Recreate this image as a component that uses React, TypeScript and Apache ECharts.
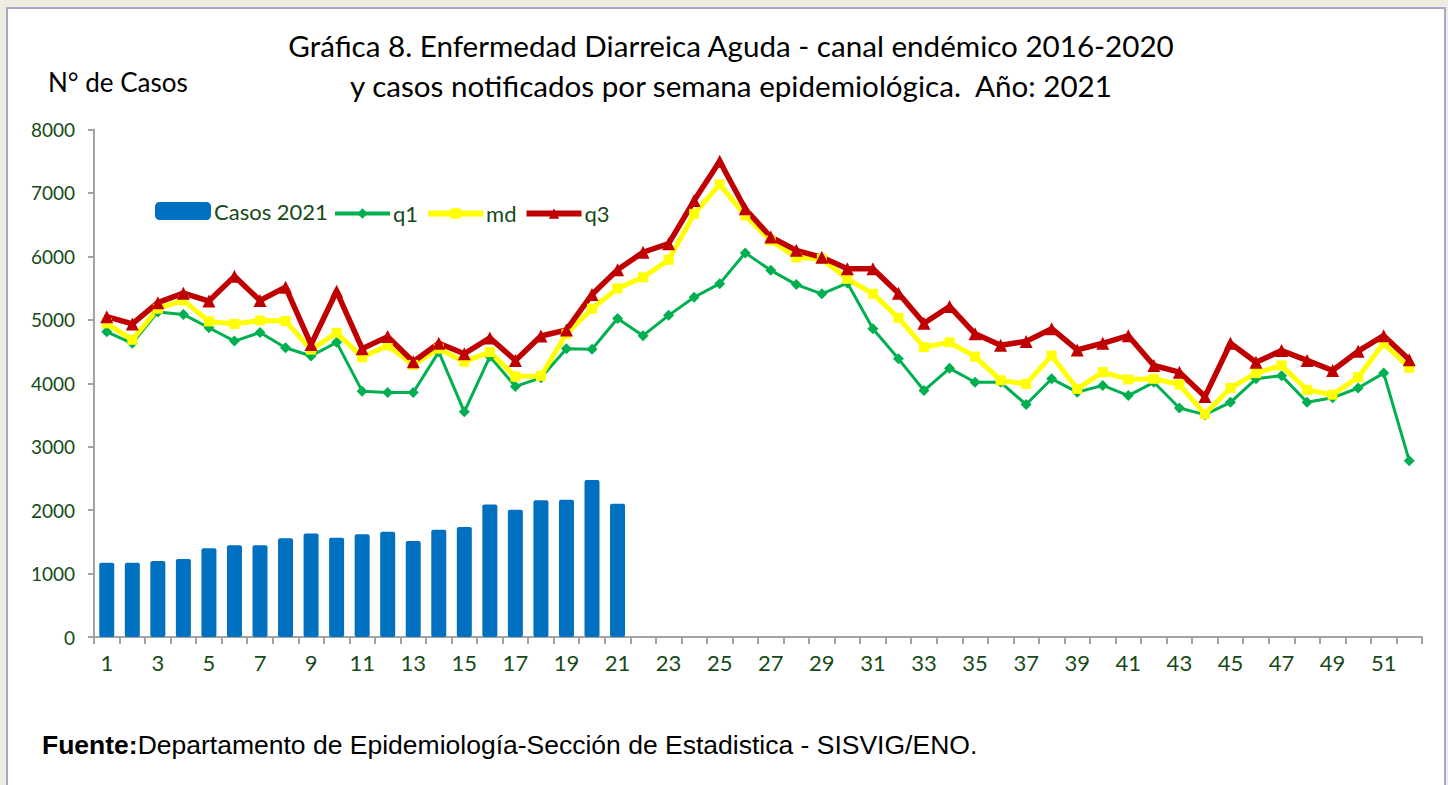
import React, { useEffect, useRef } from "react";
import * as echarts from "echarts";

const weeks = [
  "1", "2", "3", "4", "5", "6", "7", "8", "9", "10",
  "11", "12", "13", "14", "15", "16", "17", "18", "19", "20",
  "21", "22", "23", "24", "25", "26", "27", "28", "29", "30",
  "31", "32", "33", "34", "35", "36", "37", "38", "39", "40",
  "41", "42", "43", "44", "45", "46", "47", "48", "49", "50",
  "51", "52",
];

const casos2021 = [
  1170, 1170, 1200, 1230, 1400, 1445, 1445, 1555, 1630, 1565,
  1620, 1660, 1515, 1690, 1735, 2090, 2005, 2155, 2165, 2475,
  2100,
];

const q1 = [
  4810, 4630, 5125, 5085, 4875, 4665, 4800, 4560, 4430, 4645,
  3875, 3855, 3855, 4495, 3550, 4420, 3950, 4085, 4545, 4535,
  5020, 4750, 5070, 5355, 5570, 6055, 5780, 5555, 5410, 5580,
  4860, 4385, 3885, 4235, 4015, 4015, 3665, 4070, 3860, 3965,
  3805, 4015, 3610, 3505, 3700, 4070, 4120, 3700, 3770, 3925,
  4160, 2780,
];

const md = [
  4945, 4685, 5175, 5305, 4975, 4935, 4990, 4980, 4530, 4795,
  4410, 4595, 4290, 4545, 4340, 4490, 4105, 4115, 4780, 5175,
  5495, 5670, 5945, 6670, 7135, 6645, 6250, 5985, 5960, 5645,
  5410, 5030, 4570, 4645, 4420, 4045, 3990, 4435, 3910, 4175,
  4060, 4070, 3980, 3515, 3925, 4160, 4280, 3895, 3820, 4095,
  4630, 4245,
];

const q3 = [
  5050, 4935, 5270, 5420, 5295, 5685, 5305, 5515, 4610, 5450,
  4545, 4735, 4340, 4630, 4465, 4715, 4360, 4745, 4840, 5400,
  5790, 6065, 6200, 6880, 7500, 6750, 6305, 6095, 5985, 5805,
  5805, 5420, 4945, 5210, 4780, 4600, 4660, 4860, 4525, 4630,
  4750, 4280, 4175, 3790, 4630, 4330, 4515, 4360, 4200, 4505,
  4750, 4370,
];

const titleLines = [
  "Gráfica 8. Enfermedad Diarreica Aguda - canal endémico 2016-2020",
  "y casos notificados por semana epidemiológica.  Año: 2021",
];
const yTitle = "N° de Casos";
const sourceBold = "Fuente:";
const sourceText = "Departamento de Epidemiología-Sección de Estadistica - SISVIG/ENO.";

const FONT = "Lato, 'Open Sans', sans-serif";
const ARIAL = "'Liberation Sans', Arial, sans-serif";
const LABEL_COLOR = "#154a17";
const AXIS_COLOR = "#a3a3a3";

export default function App() {
  const ref = useRef<HTMLDivElement>(null);

  useEffect(() => {
    document.body.style.margin = "0";
    if (!ref.current) return;
    const chart = echarts.init(ref.current, undefined, { renderer: "svg" });
    chart.setOption({
      animation: false,
      backgroundColor: "#eeebe1",
      textStyle: { fontFamily: FONT },
      graphic: [
        {
          type: "rect",
          z: -10,
          shape: { x: 7, y: 8, width: 1438, height: 800 },
          style: { fill: "#ffffff", stroke: "#aaa8c8", lineWidth: 2 },
        },
        {
          type: "text",
          x: 731,
          y: 45,
          style: {
            text: titleLines[0],
            fontFamily: FONT,
            fontSize: 29.6,
            fill: "#000000",
            textAlign: "center",
            textVerticalAlign: "middle",
          },
        },
        {
          type: "text",
          x: 731,
          y: 85,
          style: {
            text: titleLines[1],
            fontFamily: FONT,
            fontSize: 29.6,
            fill: "#000000",
            textAlign: "center",
            textVerticalAlign: "middle",
          },
        },
        {
          type: "text",
          x: 48,
          y: 82,
          style: {
            text: yTitle,
            fontFamily: FONT,
            fontSize: 26,
            fill: "#000000",
            textAlign: "left",
            textVerticalAlign: "middle",
          },
        },
        {
          type: "text",
          x: 42,
          y: 745,
          style: {
            text: "{b|" + sourceBold + "}{n|" + sourceText + "}",
            textVerticalAlign: "middle",
            rich: {
              b: { fontFamily: ARIAL, fontWeight: "bold", fontSize: 26.5, fill: "#000000" },
              n: { fontFamily: ARIAL, fontSize: 26.5, fill: "#000000" },
            },
          },
        },
      ],
      legend: [
        {
          data: ["Casos 2021"],
          left: 155,
          top: 200,
          padding: 0,
          itemWidth: 56,
          itemHeight: 18,
          textStyle: { color: LABEL_COLOR, fontSize: 22, fontFamily: FONT, padding: [0, 0, 0, -2] },
        },
        {
          data: [
            { name: "q1", lineStyle: { width: 4 } },
            { name: "md", lineStyle: { width: 6 } },
            { name: "q3", lineStyle: { width: 6 } },
          ],
          left: 333,
          top: 202.5,
          padding: 0,
          itemWidth: 55,
          itemHeight: 13,
          itemGap: 7,
          textStyle: { color: LABEL_COLOR, fontSize: 22, fontFamily: FONT, padding: [0, 0, 0, -2] },
        },
      ],
      grid: { left: 94, right: 26, top: 129.5, bottom: 148, containLabel: false },
      xAxis: {
        type: "category",
        data: weeks,
        boundaryGap: true,
        axisLine: { show: true, lineStyle: { color: AXIS_COLOR, width: 2 } },
        axisTick: { show: true, interval: 0, length: 7, lineStyle: { color: AXIS_COLOR, width: 2 } },
        axisLabel: { interval: 1, color: LABEL_COLOR, fontSize: 22, fontFamily: FONT, margin: 14 },
        splitLine: { show: false },
      },
      yAxis: {
        type: "value",
        min: 0,
        max: 8000,
        interval: 1000,
        axisLine: { show: true, lineStyle: { color: AXIS_COLOR, width: 2 } },
        axisTick: { show: true, length: 6, lineStyle: { color: AXIS_COLOR, width: 2 } },
        axisLabel: {
          color: LABEL_COLOR,
          fontSize: 19,
          fontFamily: FONT,
          margin: 19,
          formatter: (v: number) => String(v),
        },
        splitLine: { show: false },
      },
      series: [
        {
          name: "Casos 2021",
          type: "bar",
          data: casos2021,
          barWidth: 15,
          itemStyle: { color: "#0070c0", borderRadius: 2 },
        },
        {
          name: "q1",
          type: "line",
          data: q1,
          symbol: "diamond",
          symbolSize: 11,
          lineStyle: { color: "#00b050", width: 3 },
          itemStyle: { color: "#00b050" },
        },
        {
          name: "md",
          type: "line",
          data: md,
          symbol: "rect",
          symbolSize: 10,
          lineStyle: { color: "#ffff00", width: 5 },
          itemStyle: { color: "#ffff00" },
        },
        {
          name: "q3",
          type: "line",
          data: q3,
          symbol: "triangle",
          symbolSize: 13,
          lineStyle: { color: "#c00000", width: 5.5 },
          itemStyle: { color: "#c00000" },
        },
      ],
    });
    return () => chart.dispose();
  }, []);

  return <div ref={ref} style={{ width: 1448, height: 785 }} />;
}
